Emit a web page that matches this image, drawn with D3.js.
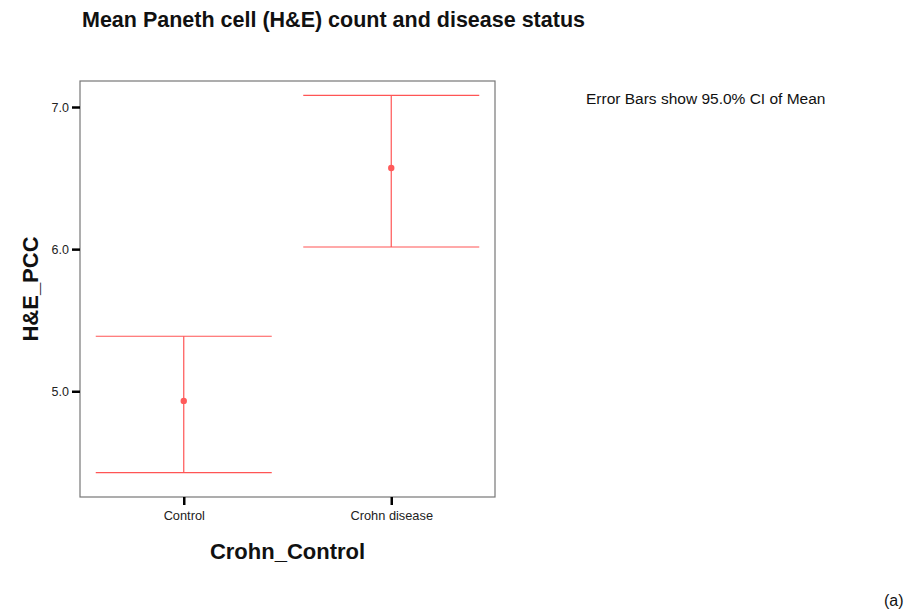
<!DOCTYPE html>
<html><head><meta charset="utf-8">
<script src="https://cdn.jsdelivr.net/npm/d3@7"></script>
<style>body{margin:0;background:#fff}svg{display:block}text{font-family:"Liberation Sans",Arial,sans-serif}</style>
</head><body>
<script>
const categories = ["Control", "Crohn disease"];
const means = [4.932, 6.571];
const lower = [4.428, 6.015];
const upper = [5.387, 7.082];
const yTicks = [5.0, 6.0, 7.0];

const W = 908, H = 613;
const svg = d3.select("body").append("svg").attr("width", W).attr("height", H);
const L = 80, R = 495, T = 81, B = 497;
const x = d3.scalePoint().domain(categories).range([L, R]).padding(0.5);
const y = d3.scaleLinear().domain([4.256, 7.183]).range([B, T]);

svg.append("rect").attr("x", L).attr("y", T).attr("width", R - L).attr("height", B - T)
  .attr("fill", "none").attr("stroke", "#777").attr("stroke-width", 1.2);

// y axis
const ya = svg.append("g").attr("transform", `translate(${L},0)`)
  .call(d3.axisLeft(y).tickValues(yTicks).tickFormat(d3.format(".1f")).tickSize(8).tickPadding(3));
ya.select(".domain").remove();
ya.selectAll("line").attr("stroke", "#000").attr("stroke-width", 2.5);
ya.selectAll("text").attr("font-size", 12.5).attr("fill", "#222").style("font-family", "Liberation Sans, Arial, sans-serif");

// x axis
const xa = svg.append("g").attr("transform", `translate(0,${B})`)
  .call(d3.axisBottom(x).tickSize(8).tickPadding(6));
xa.select(".domain").remove();
xa.selectAll("line").attr("stroke", "#000").attr("stroke-width", 2.5);
xa.selectAll("text").attr("font-size", 12.8).attr("fill", "#222").style("font-family", "Liberation Sans, Arial, sans-serif");

const capHalf = 88;
const col = "#ff5555";
const g = svg.append("g");
categories.forEach((c, i) => {
  const cx = x(c);
  g.append("line").attr("x1", cx).attr("x2", cx).attr("y1", y(upper[i])).attr("y2", y(lower[i]))
    .attr("stroke", col).attr("stroke-width", 1.2);
  [upper[i], lower[i]].forEach(v => {
    g.append("line").attr("x1", cx - capHalf).attr("x2", cx + capHalf).attr("y1", y(v)).attr("y2", y(v))
      .attr("stroke", col).attr("stroke-width", 1.2);
  });
  g.append("circle").attr("cx", cx).attr("cy", y(means[i])).attr("r", 3.2).attr("fill", "#ff5a5a");
});

svg.append("text").attr("x", 82).attr("y", 27).attr("font-size", 21.5).attr("font-weight", "bold")
  .attr("fill", "#111").text("Mean Paneth cell (H&E) count and disease status");
svg.append("text").attr("transform", `translate(38,${(T + B) / 2}) rotate(-90)`).attr("text-anchor", "middle")
  .attr("font-size", 22).attr("font-weight", "bold").attr("fill", "#111").text("H&E_PCC");
svg.append("text").attr("x", (L + R) / 2).attr("y", 559).attr("text-anchor", "middle")
  .attr("font-size", 22).attr("font-weight", "bold").attr("fill", "#111").text("Crohn_Control");
svg.append("text").attr("x", 586).attr("y", 104).attr("font-size", 15.5).attr("fill", "#111")
  .text("Error Bars show 95.0% CI of Mean");
svg.append("text").attr("x", 884).attr("y", 606).attr("font-size", 16).attr("fill", "#111").text("(a)");
</script>
</body></html>
